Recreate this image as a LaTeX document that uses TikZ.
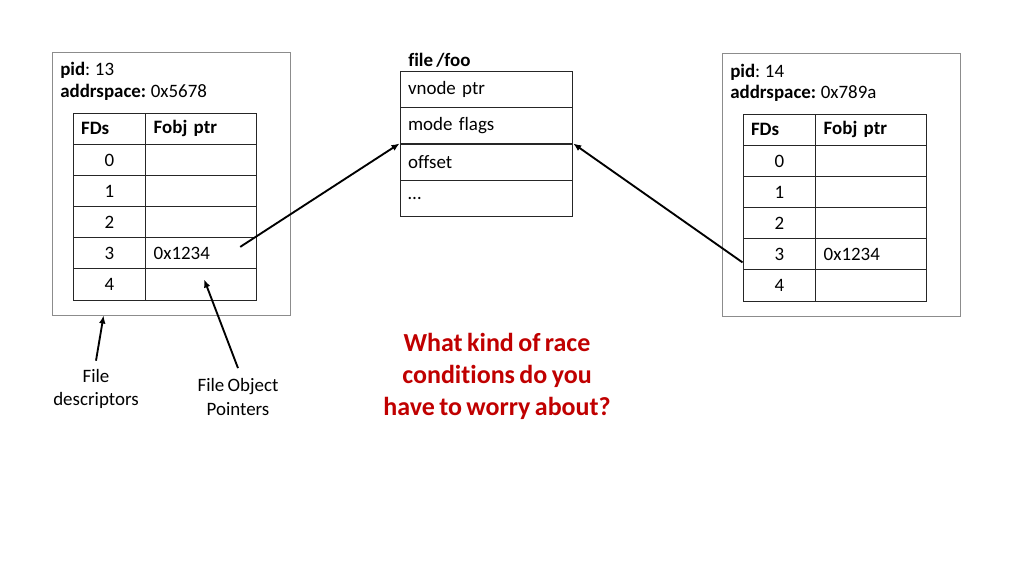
\documentclass[tikz,border=0pt]{standalone}
\usepackage{fontspec}
\setmainfont{Carlito}[Ligatures={NoCommon},WordSpace=0.75]
\usetikzlibrary{arrows.meta,positioning,calc}
\definecolor{boxgray}{RGB}{140,140,140}
\definecolor{racered}{RGB}{192,0,0}

\begin{document}
\begin{tikzpicture}[x=0.75pt,y=-0.75pt,>=Latex,
  every node/.style={font=\fontsize{14.2}{17}\selectfont},
  procbox/.style={draw=boxgray,line width=0.75pt,inner sep=0pt},
  tag/.style={anchor=base west,inner sep=0pt},
  cell/.style={draw=black!85,line width=0.75pt,minimum height=23.3pt,inner sep=0pt},
  fdcell/.style={cell,minimum width=54.6pt},
  fdhead/.style={cell,text width=42.6pt,inner xsep=6pt,align=left},
  ptrcell/.style={cell,text width=71.2pt,inner xsep=6pt,align=left},
  fobjcell/.style={cell,minimum height=27pt,text width=117.5pt,inner xsep=6pt,align=left},
  pointer/.style={->,line width=1.4pt,>={Latex[length=6pt,width=5pt]}},
  note/.style={align=center,font=\fontsize{14.2}{17.3}\selectfont}]
  \useasboundingbox (0,0) rectangle (1024,576);

  % Process 13 and its descriptor table
  \node[procbox,minimum width=178.5pt,minimum height=197.25pt] (procL) at (171,183.5) {};
  \node[tag] (pidL) at (60,75) {\textbf{pid}: 13};
  \node[tag] (asL) at (60,97) {\textbf{addrspace:} 0x5678};
  \node[fdhead] (lh) at (109.5,128.9) {\bfseries FDs};
  \node[ptrcell] (lph) at (201.2,128.9) {\bfseries Fobj ptr};
  \foreach \i/\v in {0/,1/,2/,3/0x1234,4/} {
    \node[fdcell] (l\i) at (109.5,{160.1+31.1*\i}) {\i};
    \node[ptrcell] (lp\i) at (201.2,{160.1+31.1*\i}) {\v};
  }

  % Process 14 and its descriptor table
  \node[procbox,minimum width=178.5pt,minimum height=197.25pt] (procR) at (841,184.5) {};
  \node[tag] (pidR) at (730,77) {\textbf{pid}: 14};
  \node[tag] (asR) at (730,98) {\textbf{addrspace:} 0x789a};
  \node[fdhead] (rh) at (779.4,129.9) {\bfseries FDs};
  \node[ptrcell] (rph) at (871.2,129.9) {\bfseries Fobj ptr};
  \foreach \i/\v in {0/,1/,2/,3/0x1234,4/} {
    \node[fdcell] (r\i) at (779.4,{161.1+31.1*\i}) {\i};
    \node[ptrcell] (rp\i) at (871.2,{161.1+31.1*\i}) {\v};
  }

  % Shared file object
  \node[tag] (fname) at (408,66) {\bfseries file /foo};
  \foreach \n/\t [count=\k from 0] in {vnode/vnode ptr,mode/mode flags,off/offset,etc/\dots} {
    \node[fobjcell] (\n) at (486.4,{89.8+36.1*\k}) {\t};
  }

  % Pointers into the file object
  \draw[pointer] ($(lp3.center)+(39,-6.5)$) -- (off.north west);
  \draw[pointer] ($(r3.west)+(0,8)$) -- (off.north east);

  % Callouts
  \node[note] (fdlab) at (96,389) {File\\descriptors};
  \node[note] (foplab) at (238,397) {File Object\\Pointers};
  \draw[pointer] ($(fdlab.north)+(0,-4)$) -- ($(procL.south west)!0.218!(procL.south east)$);
  \draw[pointer] ($(foplab.north)+(0,-6)$) -- ($(lp4.center)+(3,-5)$);

  \node[align=center,text=racered,font=\fontsize{19.5}{24}\selectfont\bfseries] (quest) at (497,376)
    {What kind of race\\conditions do you\\have to worry about?};
\end{tikzpicture}
\end{document}
